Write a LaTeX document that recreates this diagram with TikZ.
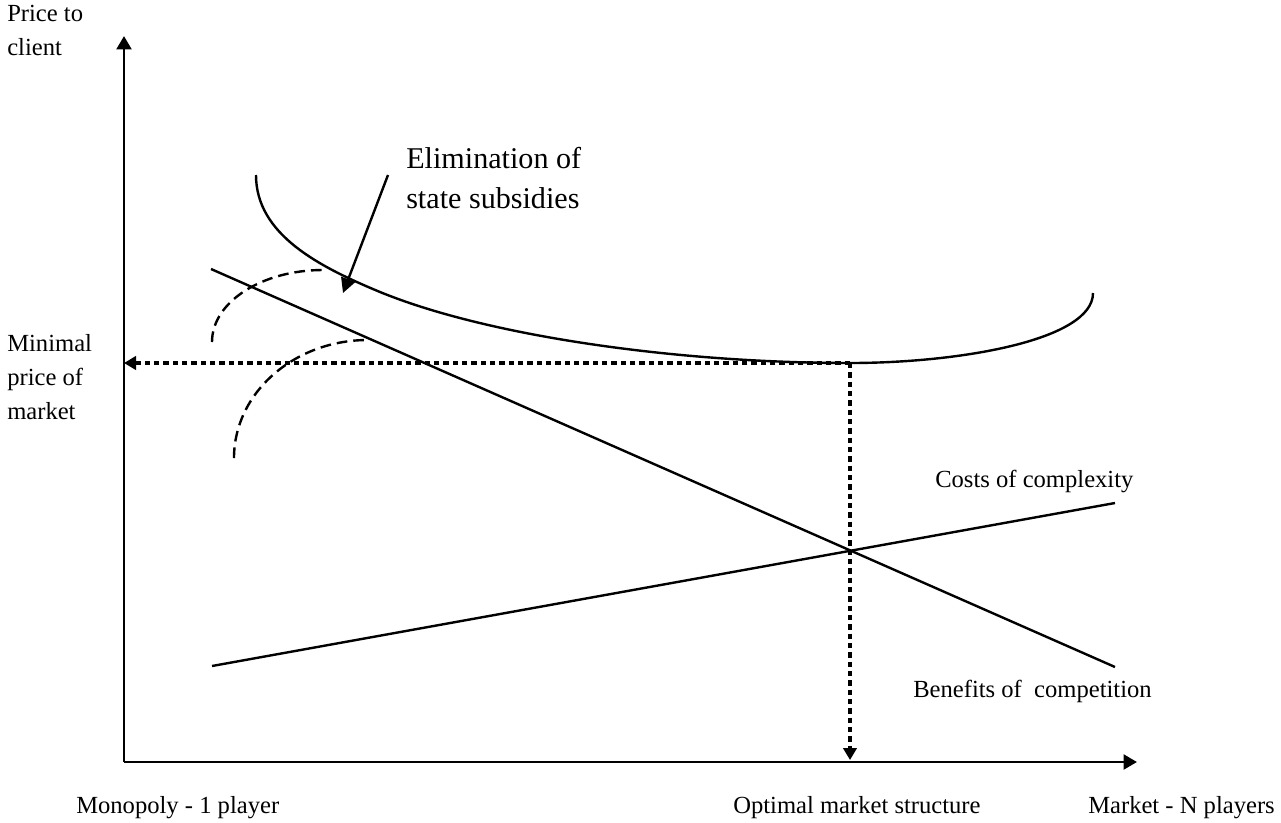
\documentclass[tikz,border=0pt]{standalone}
\usepackage{fontspec}
\setmainfont{Liberation Serif}
\usetikzlibrary{arrows.meta}
\begin{document}
\begin{tikzpicture}[x=0.75pt,y=-0.75pt,
  axis/.style={line width=2.2pt,-{Triangle[length=10pt,width=11pt]}},
  curve/.style={line width=1.8pt},
  dashcurve/.style={line width=1.8pt,dash pattern=on 8pt off 4.5pt},
  dotarrow/.style={line width=2.4pt,dash pattern=on 4pt off 3pt,-{Triangle[length=9pt,width=10pt]}},
  pointer/.style={line width=1.8pt,-{Triangle[length=11pt,width=11pt]}},
  lbl/.style={inner sep=0pt,font=\fontsize{18.45}{25.5}\selectfont,align=left,anchor=base west},
  biglbl/.style={inner sep=0pt,font=\fontsize{22.6}{30}\selectfont,align=left,anchor=base west}]
\useasboundingbox (0,0) rectangle (1281,822);
% key points
\coordinate (O) at (124,762);
\coordinate (ytip) at (124,36);
\coordinate (xtip) at (1137,762);
\coordinate (min) at (850,363);
\coordinate (minY) at (124,363);
\coordinate (minX) at (850,760);
\coordinate (bs) at (211,269);
\coordinate (be) at (1115,667);
\coordinate (cs) at (212,666);
\coordinate (ce) at (1115,503);
\coordinate (ptrS) at (388,175);
\coordinate (ptrE) at (343,293);
\coordinate (d1s) at (212,342);
\coordinate (d1e) at (323,270);
\coordinate (d2s) at (234,458);
\coordinate (d2e) at (368,340);
\coordinate (cS) at (256,175);
\coordinate (cA) at (380,292);
\coordinate (cE) at (1093,293);
% axes
\draw[axis] (O) -- (ytip);
\draw[axis] (O) -- (xtip);
% total price curve
\draw[curve] (cS) .. controls (256,235) and (320,267) .. (cA)
  .. controls (490,337) and (680,363) .. (min)
  .. controls (960,363) and (1093,340) .. (cE);
% benefit and cost lines
\draw[curve] (bs) -- (be);
\draw[curve] (cs) -- (ce);
% dashed shifted curves
\draw[dashcurve] (d1s) .. controls (212,302) and (262,270) .. (d1e);
\draw[dashcurve] (d2s) .. controls (234,393) and (294,340) .. (d2e);
% dotted guides
\draw[dotarrow] (min) -- (minY);
\draw[dotarrow] (min) -- (minX);
% pointer
\draw[pointer] (ptrS) -- (ptrE);
% labels
\node[lbl] (ylab) at (7,55) {Price to\\client};
\node[lbl] (minlab) at (7,419) {Minimal\\price of\\market};
\node[biglbl] (elim) at (406,208) {Elimination of\\state subsidies};
\node[lbl] (costs) at (935,487) {Costs of complexity};
\node[lbl] (benef) at (913,697) {Benefits of\ \ competition};
\node[lbl] (mono) at (76,813) {Monopoly - 1 player};
\node[lbl] (opt) at (733,813) {Optimal market structure};
\node[lbl] (mkt) at (1088,813) {Market - N players};
\end{tikzpicture}
\end{document}
